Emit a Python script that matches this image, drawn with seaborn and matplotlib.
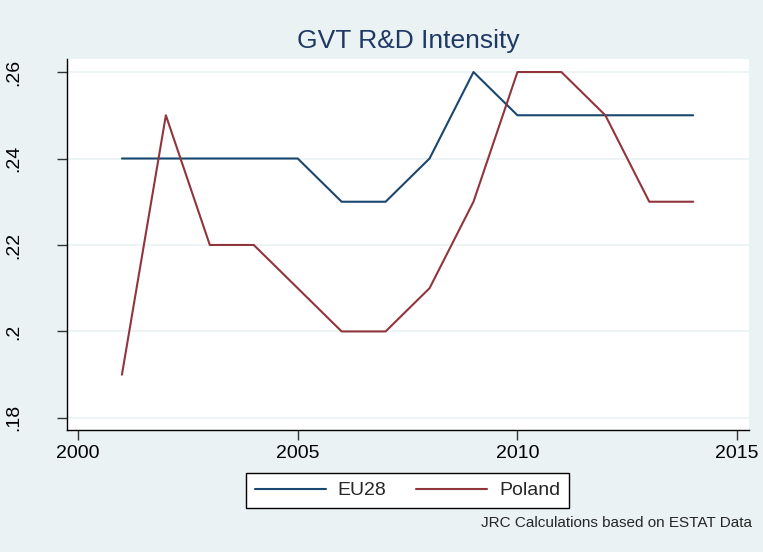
import pandas as pd
import seaborn as sns
import matplotlib.pyplot as plt

years = list(range(2001, 2015))
eu28 = [.24, .24, .24, .24, .24, .23, .23, .24, .26, .25, .25, .25, .25, .25]
poland = [.19, .25, .22, .22, .21, .20, .20, .21, .23, .26, .26, .25, .23, .23]

df = pd.DataFrame({
    'year': years * 2,
    'value': eu28 + poland,
    'country': ['EU28'] * len(years) + ['Poland'] * len(years),
})

sns.set_style('white')
plt.rcParams['font.family'] = ['Liberation Sans', 'DejaVu Sans']

bg = '#EAF2F3'
fig = plt.figure(figsize=(7.63, 5.52), dpi=100, facecolor=bg)
ax = fig.add_axes([0.0878, 0.221, 0.8939, 0.672])

palette = {'EU28': '#1A476F', 'Poland': '#90353B'}
sns.lineplot(data=df, x='year', y='value', hue='country', palette=palette,
             linewidth=1.5, ax=ax, legend=False)

ax.set_xlim(1999.75, 2015.27)
ax.set_ylim(0.1772, 0.263)
ax.set_xticks([2000, 2005, 2010, 2015])
ax.set_yticks([.18, .2, .22, .24, .26])
ax.set_yticklabels(['.18', '.2', '.22', '.24', '.26'], rotation=90, va='center')
ax.tick_params(axis='both', direction='out', length=7, width=1, color='#333333',
               labelsize=14, labelcolor='black', left=True, bottom=True)
ax.tick_params(axis='y', pad=25)
ax.tick_params(axis='x', pad=4)
ax.grid(axis='y', color=bg, linewidth=1.2)
ax.set_axisbelow(True)
for side in ['top', 'right']:
    ax.spines[side].set_visible(False)
for side in ['left', 'bottom']:
    ax.spines[side].set_color('black')
    ax.spines[side].set_linewidth(1)
ax.set_xlabel('')
ax.set_ylabel('')

ax.set_title('GVT R&D Intensity', fontsize=19, color='#1F3864', pad=8)

handles = [plt.Line2D([], [], color=palette[k], linewidth=1.5) for k in ['EU28', 'Poland']]
leg = fig.legend(handles, ['EU28', 'Poland'], ncol=2, loc='center',
                 bbox_to_anchor=(0.534, 0.1114), fontsize=14, handlelength=3.65,
                 handletextpad=0.6, columnspacing=1.55, fancybox=False,
                 framealpha=1, borderpad=0.45)
leg.get_frame().set_edgecolor('black')
leg.get_frame().set_linewidth(1)

fig.text(0.985, 0.052, 'JRC Calculations based on ESTAT Data', ha='right',
         va='center', fontsize=11)

fig.savefig('out.png', dpi=100, facecolor=bg)
